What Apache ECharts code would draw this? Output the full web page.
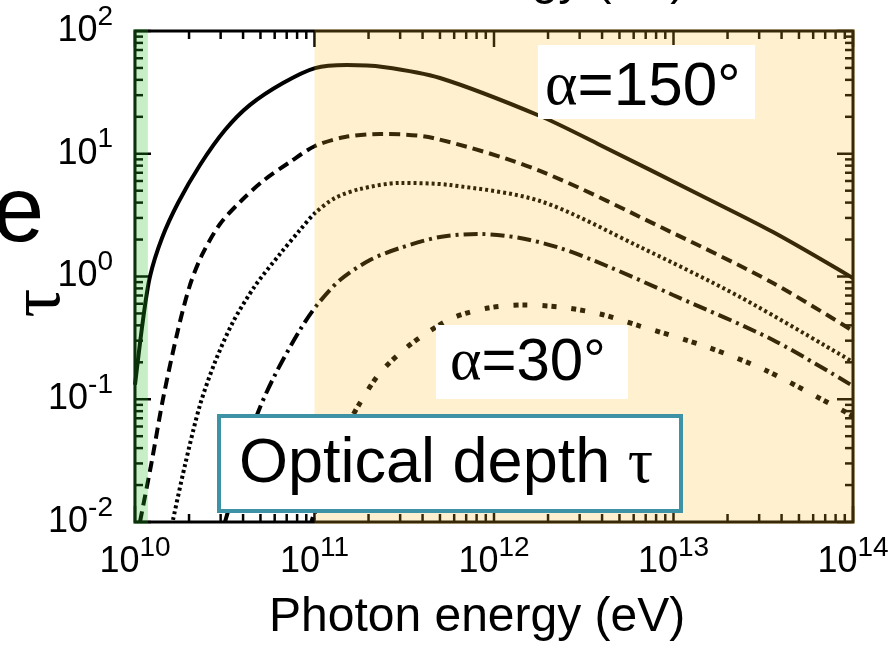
<!DOCTYPE html>
<html>
<head>
<meta charset="utf-8">
<script src="https://cdn.jsdelivr.net/npm/echarts@6/dist/echarts.min.js"></script>
<style>
html, body { margin: 0; padding: 0; background: #fff; }
#main { width: 893px; height: 645px; }
</style>
</head>
<body>
<div id="main"></div>
<script>
// photon energy (eV) / optical depth, one pair of arrays per curve (alpha = 150 ... 30 deg)
const energyA = [1.0e10, 1.108e10, 1.212e10, 1.414e10, 1.736e10, 2.302e10, 3.172e10, 4.373e10, 6.677e10, 1.007e11, 1.518e11, 2.408e11, 5.0e11, 1.805e12, 3.895e12, 1.405e13, 3.584e13, 1e14];
const tauA    = [0.131, 0.443, 1.0, 2.06, 3.97, 8.10, 15.6, 25.0, 37.7, 49.9, 52.8, 50.9, 41.4, 20.3, 11.8, 4.61, 2.30, 0.97];

const energyB = [1.066e10, 1.244e10, 1.432e10, 1.736e10, 2.025e10, 2.362e10, 2.976e10, 3.946e10, 5.166e10, 7.303e10, 1.007e11, 1.479e11, 2.317e11, 4.573e11, 1.805e12, 9.936e12, 3.584e13, 1e14];
const tauB    = [0.01, 0.032, 0.1005, 0.367, 0.853, 1.497, 2.678, 4.199, 6.00, 8.57, 11.56, 13.69, 14.48, 13.44, 7.24, 2.26, 0.885, 0.360];

const energyC = [1.628e10, 1.899e10, 2.302e10, 2.791e10, 3.516e10, 4.661e10, 6.424e10, 8.303e10, 1.007e11, 1.301e11, 1.792e11, 2.995e11, 5.686e11, 1.805e12, 6.507e12, 2.347e13, 1e14];
const tauC    = [0.0104, 0.0291, 0.0898, 0.201, 0.426, 0.837, 1.525, 2.392, 3.291, 4.36, 5.16, 5.78, 5.56, 4.12, 1.739, 0.681, 0.201];

const energyD = [3.172e10, 3.846e10, 4.782e10, 6.026e10, 8.303e10, 1.033e11, 1.387e11, 2.038e11, 2.995e11, 5.002e11, 8.356e11, 1.396e12, 2.332e12, 4.261e12, 9.936e12, 3.584e13, 1e14];
const tauD    = [0.01, 0.0265, 0.0744, 0.158, 0.367, 0.586, 0.936, 1.363, 1.707, 2.098, 2.219, 2.058, 1.707, 1.218, 0.707, 0.304, 0.128];

const energyE = [9.685e10, 1.073e11, 1.387e11, 1.792e11, 2.317e11, 3.193e11, 4.289e11, 6.062e11, 9.262e11, 1.451e12, 2.332e12, 3.895e12, 6.507e12, 1.537e13, 3.234e13, 6.806e13, 1e14];
const tauE    = [0.01, 0.0166, 0.0466, 0.0932, 0.164, 0.257, 0.353, 0.468, 0.554, 0.586, 0.564, 0.495, 0.395, 0.267, 0.173, 0.0986, 0.073];

const xRange = [1e10, 1e14];
const yRange = [1e-2, 1e2];
const greenBand = [1e10, 1.18e10];
const orangeBand = [1e11, 1e14];

const sans = 'Liberation Sans';
const serif = 'Liberation Serif';

function pairs(xs, ys) {
    return xs.map((x, i) => [x, ys[i]]);
}

// tick positions of a log axis: 1..9 x 10^k
function logTicks(lo, hi) {
    const out = [];
    for (let k = lo; k < hi; k++) {
        for (let m = 1; m < 10; m++) out.push([m * Math.pow(10, k), m === 1 ? 1 : 0]);
    }
    out.push([Math.pow(10, hi), 1]);
    return out;
}
const xTicks = logTicks(10, 14).map(t => [t[0], 1, t[1]]);
const yTicks = logTicks(-2, 2).map(t => [1e12, t[0], t[1]]);

function powLabel(v) {
    const e = Math.round(Math.log10(v));
    return '{b|10}{s|' + e + '}';
}
const labelRich = {
    b: { fontFamily: sans, fontSize: 36, color: '#000', lineHeight: 56 },
    s: { fontFamily: sans, fontSize: 28, color: '#000', verticalAlign: 'top' }
};

function lineSeries(xs, ys, width, dash) {
    return {
        type: 'line',
        data: pairs(xs, ys),
        symbol: 'none',
        smooth: 0.3,
        clip: true,
        z: 2,
        lineStyle: { color: '#000', width: width, type: dash, cap: 'butt' }
    };
}

const tickStyle = { stroke: '#000', lineWidth: 2.5 };

const myChart = echarts.init(document.getElementById('main'), null, { renderer: 'canvas' });

const option = {
    animation: false,
    grid: {
        left: 135, right: 40, top: 31, bottom: 123,
        show: true, borderColor: '#000', borderWidth: 3, backgroundColor: 'transparent'
    },
    xAxis: {
        type: 'log', logBase: 10, min: xRange[0], max: xRange[1],
        axisLine: { show: false }, axisTick: { show: false },
        splitLine: { show: false }, minorTick: { show: false },
        axisLabel: { margin: 12, formatter: powLabel, rich: labelRich }
    },
    yAxis: {
        type: 'log', logBase: 10, min: yRange[0], max: yRange[1],
        axisLine: { show: false }, axisTick: { show: false },
        splitLine: { show: false }, minorTick: { show: false },
        axisLabel: { margin: 22, formatter: powLabel, rich: labelRich }
    },
    series: [
        lineSeries(energyA, tauA, 4, 'solid'),
        lineSeries(energyB, tauB, 4, [11, 6]),
        lineSeries(energyC, tauC, 4, [3, 3]),
        lineSeries(energyD, tauD, 4, [14, 5, 3, 5]),
        lineSeries(energyE, tauE, 5, [5, 4, 5, 15]),
        {
            // ticks on bottom and top
            type: 'custom', z: 3, silent: true,
            data: xTicks,
            encode: { x: 0, y: 1 },
            renderItem: function (params, api) {
                const v = api.value(0);
                const len = api.value(2) ? 16 : 8;
                const b = api.coord([v, yRange[0]]);
                const t = api.coord([v, yRange[1]]);
                return {
                    type: 'group',
                    children: [
                        { type: 'line', shape: { x1: b[0], y1: b[1], x2: b[0], y2: b[1] - len }, style: tickStyle },
                        { type: 'line', shape: { x1: t[0], y1: t[1], x2: t[0], y2: t[1] + len }, style: tickStyle }
                    ]
                };
            }
        },
        {
            // ticks on left and right
            type: 'custom', z: 3, silent: true,
            data: yTicks,
            encode: { x: 0, y: 1 },
            renderItem: function (params, api) {
                const v = api.value(1);
                const len = api.value(2) ? 16 : 8;
                const l = api.coord([xRange[0], v]);
                const r = api.coord([xRange[1], v]);
                return {
                    type: 'group',
                    children: [
                        { type: 'line', shape: { x1: l[0], y1: l[1], x2: l[0] + len, y2: l[1] }, style: tickStyle },
                        { type: 'line', shape: { x1: r[0], y1: r[1], x2: r[0] - len, y2: r[1] }, style: tickStyle }
                    ]
                };
            }
        },
        {
            // tinted energy bands, laid over curves and frame
            type: 'custom', z: 5, silent: true,
            data: [[greenBand[0], greenBand[1], 1], [orangeBand[0], orangeBand[1], 1]],
            encode: { x: [0, 1], y: 2 },
            renderItem: function (params, api) {
                const x0 = api.value(0), x1 = api.value(1);
                const p0 = api.coord([x0, yRange[1]]);
                const p1 = api.coord([x1, yRange[0]]);
                let l = p0[0], r = p1[0];
                if (x0 <= xRange[0]) l -= 2;
                if (x1 >= xRange[1]) r += 2;
                const fills = ['rgba(40,190,40,0.26)', 'rgba(255,185,40,0.22)'];
                return {
                    type: 'rect',
                    shape: { x: l, y: p0[1] - 2, width: r - l, height: p1[1] - p0[1] + 4 },
                    style: { fill: fills[params.dataIndex] }
                };
            }
        }
    ],
    graphic: [
        // cut-off title of the panel above, and a stray letter at the left
        { type: 'text', z: 100, x: 270, y: -19, style: { text: 'Photon energy (eV)', font: '48px "Liberation Sans"', fill: '#000', textAlign: 'left', textVerticalAlign: 'middle' } },
        { type: 'text', z: 100, x: -7, y: 216, style: { text: 'e', font: '92px "Liberation Sans"', fill: '#000', textAlign: 'left', textVerticalAlign: 'middle' } },
        { type: 'text', z: 100, x: 40, y: 303, rotation: Math.PI / 2, style: { text: 'τ', font: '72px "Liberation Serif"', fill: '#000', textAlign: 'center', textVerticalAlign: 'middle' } },
        { type: 'text', z: 100, x: 269, y: 618, style: { text: 'Photon energy (eV)', font: '48px "Liberation Sans"', fill: '#000', textAlign: 'left', textVerticalAlign: 'middle' } },

        { type: 'rect', z: 100, shape: { x: 538, y: 45, width: 217, height: 74 }, style: { fill: '#fff' } },
        { type: 'text', z: 101, x: 545, y: 88, style: {
            text: '{a|α}{e|=150}{d|°}', textAlign: 'left', textVerticalAlign: 'middle',
            rich: {
                a: { fontFamily: serif, fontSize: 62, color: '#000' },
                e: { fontFamily: sans, fontSize: 62, color: '#000' },
                d: { fontFamily: sans, fontSize: 58, color: '#000' }
            }
        } },

        { type: 'rect', z: 100, shape: { x: 436, y: 325, width: 192, height: 74 }, style: { fill: '#fff' } },
        { type: 'text', z: 101, x: 450, y: 363, style: {
            text: '{a|α}{e|=30}{d|°}', textAlign: 'left', textVerticalAlign: 'middle',
            rich: {
                a: { fontFamily: serif, fontSize: 60, color: '#000' },
                e: { fontFamily: sans, fontSize: 60, color: '#000' },
                d: { fontFamily: sans, fontSize: 56, color: '#000' }
            }
        } },

        { type: 'rect', z: 100, shape: { x: 219, y: 416, width: 462, height: 95 }, style: { fill: '#fff', stroke: '#3d93a5', lineWidth: 4 } },
        { type: 'text', z: 101, x: 239, y: 465, style: {
            text: '{t|Optical depth }{g|τ}', textAlign: 'left', textVerticalAlign: 'middle',
            rich: {
                t: { fontFamily: sans, fontSize: 63, color: '#000' },
                g: { fontFamily: serif, fontSize: 63, color: '#000' }
            }
        } }
    ]
};

myChart.setOption(option);
</script>
</body>
</html>
